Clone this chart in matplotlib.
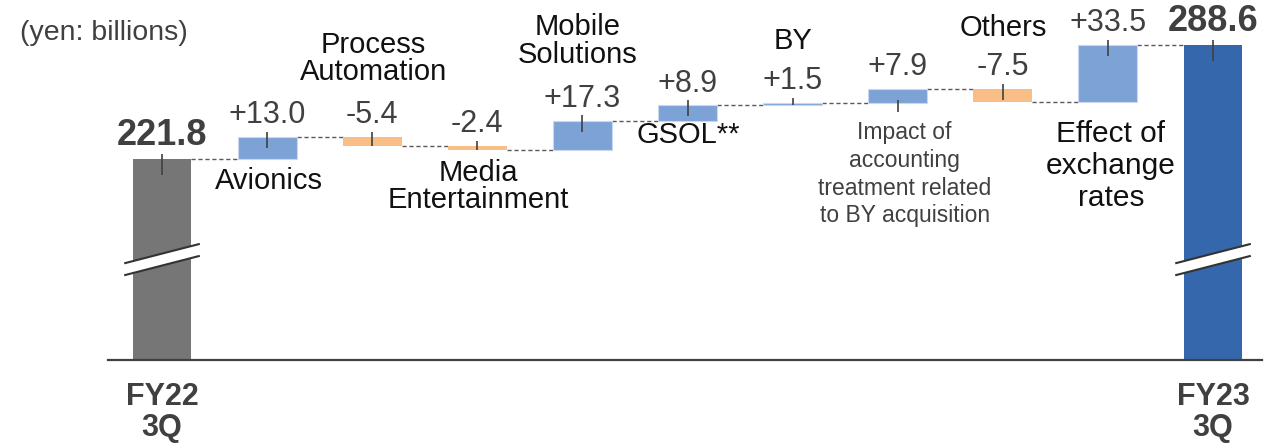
"""Waterfall: FY22 3Q -> FY23 3Q revenue bridge (yen: billions)."""

import matplotlib
matplotlib.use("Agg")
import matplotlib.pyplot as plt
from matplotlib.patches import Polygon

plt.rcParams["font.family"] = ["Liberation Sans", "DejaVu Sans"]

start_label = "FY22\n3Q"
end_label = "FY23\n3Q"
start_value = 221.8
end_value = 288.6
categories = ["Avionics", "Process\nAutomation", "Media\nEntertainment", "Mobile\nSolutions",
              "GSOL**", "BY", "Impact of\naccounting\ntreatment related\nto BY acquisition",
              "Others", "Effect of\nexchange\nrates"]
deltas = [13.0, -5.4, -2.4, 17.3, 8.9, 1.5, 7.9, -7.5, 33.5]
delta_labels = ["+13.0", "-5.4", "-2.4", "+17.3", "+8.9", "+1.5", "+7.9", "-7.5", "+33.5"]

# label placement: (above/below bar, dx pt, dy pt, fontsize, linespacing)
cat_place = [("below", 1.4, -15.8, 21, 0.97), ("above", 0.7, 56.5, 21, 0.97),
             ("below", 0.5, -26.2, 21, 0.97), ("above", -3.6, 57.4, 21, 0.97),
             ("below", 0.3, -10.3, 21, 0.97), ("above", 0.3, 44.7, 21, 0.97),
             ("below", 5.0, -51.3, 16.5, 1.27), ("above", 0.0, 44.4, 21, 0.97),
             ("below", 2.2, -46.0, 21.5, 1.2)]

GRAY = "#767676"
DARK_BLUE = "#3567AC"
POS = "#7DA3D6"
NEG = "#F9BE85"
TXT = "#404040"
W = 0.56


def main():
    fig = plt.figure(figsize=(12.76, 4.43), dpi=100)
    ax = fig.add_axes([108 / 1276, 83 / 443, 1154 / 1276, 360 / 443])
    ax.set_xlim(-0.514, 10.466)
    ax.set_ylim(104.0, 314.97)

    # cumulative levels
    levels = [start_value]
    for d in deltas:
        levels.append(levels[-1] + d)

    n = len(deltas) + 2
    # totals
    ax.bar(0, start_value, width=W, color=GRAY, zorder=2)
    ax.bar(n - 1, end_value, width=W, color=DARK_BLUE, zorder=2)

    for i, d in enumerate(deltas):
        x = i + 1
        lo, hi = min(levels[i], levels[i + 1]), max(levels[i], levels[i + 1])
        if d > 0:
            ax.bar(x, hi - lo, bottom=lo, width=W, color=POS, edgecolor="#C9D8EF",
                   linewidth=0.8, zorder=2)
        else:
            ax.bar(x, hi - lo, bottom=lo, width=W, color=NEG, zorder=2)

        # leader tick
        if i == 6:
            ax.vlines(x, lo - 5.5, lo + 1.5, color=TXT, lw=1.2, zorder=3)
        else:
            ax.vlines(x, max(lo, hi - 6.5), hi + 3, color=TXT, lw=1.2, zorder=3)

        ax.annotate(delta_labels[i], (x, hi), xytext=(0, 10), textcoords="offset points",
                    ha="center", va="baseline", fontsize=22, color=TXT)

        where, dx, dy, fs, ls = cat_place[i]
        ref = hi if where == "above" else lo
        col = TXT if i == 6 else "#111111"
        ax.annotate(categories[i], (x, ref), xytext=(dx, dy), textcoords="offset points",
                    ha="center", va="center", fontsize=fs, color=col, linespacing=ls)

    # totals labels and ticks
    for x, v in [(0, start_value), (n - 1, end_value)]:
        ax.vlines(x, v - 9.5, v + 3, color=TXT, lw=1.2, zorder=3)
        ax.annotate(f"{v:.1f}", (x, v), xytext=(0, 10), textcoords="offset points",
                    ha="center", va="baseline", fontsize=26, fontweight="bold", color=TXT)

    # dashed connectors
    for i in range(n - 1):
        ax.plot([i + W / 2, i + 1 - W / 2], [levels[i], levels[i]], color="#595959",
                lw=1.0, ls=(0, (3, 2)), zorder=1)

    # axis break marks
    for x in [0, n - 1]:
        x0, x1 = x - 0.35, x + 0.35
        y0, y1 = 160.8, 171.9
        gap = 7.0
        ax.add_patch(Polygon([[x0, y0], [x1, y1], [x1, y1 - gap], [x0, y0 - gap]],
                             closed=True, color="white", zorder=4, lw=0))
        ax.plot([x0, x1], [y0, y1], color="#333333", lw=1.5, zorder=5)
        ax.plot([x0, x1], [y0 - gap, y1 - gap], color="#333333", lw=1.5, zorder=5)

    for s in ["top", "right", "left"]:
        ax.spines[s].set_visible(False)
    ax.spines["bottom"].set_color(TXT)
    ax.spines["bottom"].set_linewidth(1.6)
    ax.set_yticks([])
    ax.set_xticks([0, n - 1])
    ax.set_xticklabels([start_label, end_label], fontsize=22, fontweight="bold",
                       color=TXT, linespacing=1.05)
    ax.tick_params(axis="x", length=0, pad=16)

    fig.text(20 / 1276, 1 - 33 / 443, "(yen: billions)", fontsize=20.5, color=TXT,
             ha="left", va="center")

    fig.savefig("out.png", dpi=100)
    plt.close(fig)


if __name__ == "__main__":
    main()
